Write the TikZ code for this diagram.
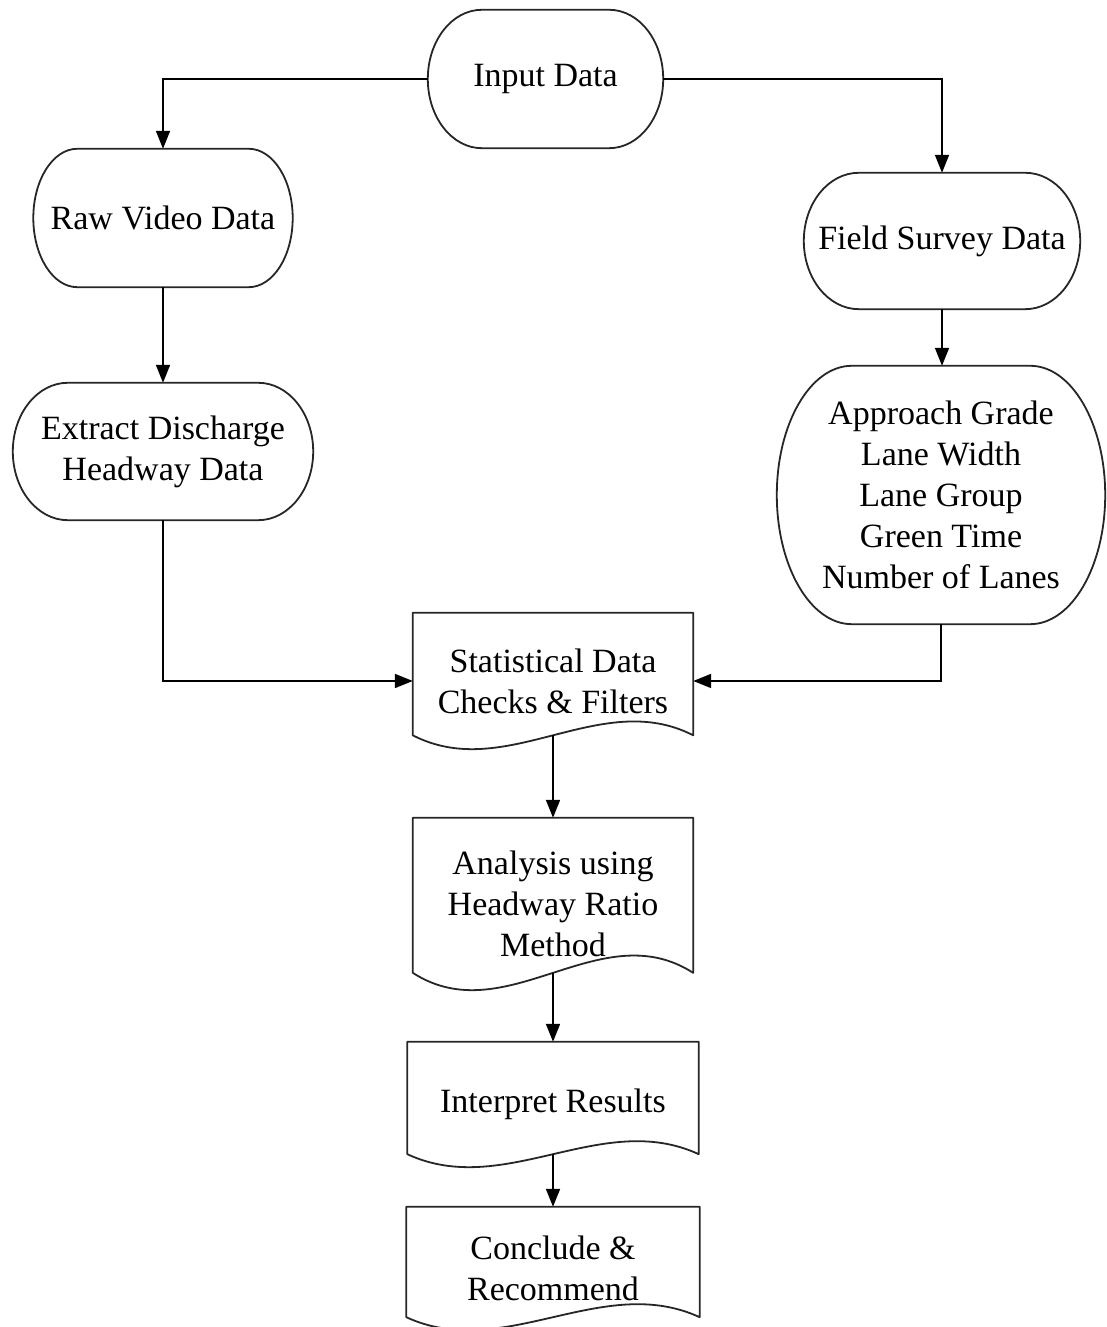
\documentclass[tikz,border=0pt]{standalone}
\usepackage{fontspec}
\setmainfont{Liberation Serif}
\usetikzlibrary{arrows.meta,calc}

\tikzset{
  box/.style={draw=none, inner sep=0pt, align=center,
    font=\fontsize{34}{41}\selectfont},
  outline/.style={draw=black!85, line width=1.8pt, line join=round},
  flow/.style={draw=black, line width=1.8pt,
    -{Triangle[length=18pt,width=14pt]}},
}

% Terminator outline around a node: straight top/bottom, half-elliptic ends
\newcommand\stadium[2]{%
  \path[outline] let \p1=(#1.north west), \p2=(#1.south east),
      \n1={(\y1-\y2)/2} in
    (\x1+#2,\y1) -- (\x2-#2,\y1)
    arc[start angle=90,end angle=-90,x radius=#2,y radius=\n1]
    -- (\x1+#2,\y2)
    arc[start angle=270,end angle=90,x radius=#2,y radius=\n1] -- cycle;}

% Document outline around a node: wavy bottom edge; #2 is the control offset.
% Also defines the coordinate <node>-wave where the wave crosses the middle.
\newcommand\docshape[2]{%
  \path[outline] let \p1=(#1.north west), \p2=(#1.south east),
      \n1={\y2+0.289*#2}, \n2={(\x2-\x1)/3} in
    (\x1,\n1) -- (\x1,\y1) -- (\x2,\y1) -- (\x2,\n1)
    .. controls (\x2-\n2,\n1+#2) and (\x1+\n2,\n1-#2) .. (\x1,\n1) -- cycle;
  \path let \p2=(#1.south), \n1={\y2+0.289*#2} in
    (\x2,\n1) coordinate (#1-wave);}

\begin{document}
\begin{tikzpicture}[x=1pt,y=1pt]
  \useasboundingbox (0,0) rectangle (1107,1327);
  \clip (0,0) rectangle (1107,1327);

  % nodes
  \node[box, minimum width=235pt, minimum height=138pt] (input) at (545.5,1248) {Input Data};
  \node[box, minimum width=259pt, minimum height=138pt] (raw) at (163,1109) {Raw Video Data};
  \node[box, minimum width=276pt, minimum height=136pt] (field) at (942,1086) {Field Survey Data};
  \node[box, minimum width=300pt, minimum height=137pt] (extract) at (163,875.5) {Extract Discharge\\Headway Data};
  \node[box, minimum width=328pt, minimum height=258pt] (approach) at (941,832)
    {Approach Grade\\Lane Width\\Lane Group\\Green Time\\Number of Lanes};
  \node[box, minimum width=280pt, minimum height=136pt] (stat) at (553,646) {Statistical Data\\Checks \& Filters};
  \node[box, minimum width=280pt, minimum height=172pt] (analysis) at (553,423) {Analysis using\\Headway Ratio\\Method};
  \node[box, minimum width=291pt, minimum height=125pt] (interp) at (553,222.5) {Interpret Results};
  \node[box, minimum width=293pt, minimum height=123pt] (conclude) at (553,58.5) {Conclude \&\\Recommend};

  % outlines
  \stadium{input}{54pt}
  \stadium{raw}{44pt}
  \stadium{field}{55pt}
  \stadium{extract}{55pt}
  \stadium{approach}{75pt}
  \docshape{stat}{48pt}
  \docshape{analysis}{60pt}
  \docshape{interp}{45pt}
  \docshape{conclude}{45pt}

  % connectors
  \draw[flow] (input.west) -| (raw.north);
  \draw[flow] (input.east) -| (field.north);
  \draw[flow] (raw.south) -- (extract.north);
  \draw[flow] (field.south) -- (field.south |- approach.north);
  \draw[flow] (extract.south) |- (stat.west);
  \draw[flow] (approach.south) |- (stat.east);
  \draw[flow] (stat-wave) -- (analysis.north);
  \draw[flow] (analysis-wave) -- (interp.north);
  \draw[flow] (interp-wave) -- (conclude.north);
\end{tikzpicture}
\end{document}
